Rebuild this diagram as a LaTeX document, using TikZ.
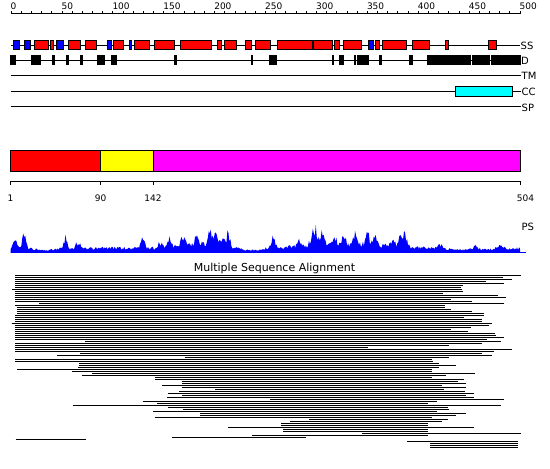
\documentclass[tikz,border=0pt]{standalone}
\usepackage{fontspec}
\setmainfont{DejaVu Sans}
\definecolor{ssred}{RGB}{255,0,0}
\definecolor{ssblue}{RGB}{0,0,255}
\definecolor{domyellow}{RGB}{255,255,0}
\definecolor{dommag}{RGB}{255,0,255}
\definecolor{cccyan}{RGB}{0,255,255}
\newcommand\rulerfont{\fontsize{9}{10}\selectfont}
\newcommand\trackfont{\fontsize{10}{11}\selectfont}
\newcommand\titlefont{\fontsize{11}{13}\selectfont}
\begin{document}
\begin{tikzpicture}[x=1pt,y=-1pt,
  ssbox/.style={draw=black,line width=0.8pt},
  dblock/.style={fill=black},
  trackline/.style={draw=black,line width=0.9pt},
  tracklabel/.style={anchor=base west,inner sep=0pt,font=\trackfont},
  rulerlabel/.style={anchor=base west,inner sep=0pt,font=\rulerfont},
  axislabel/.style={anchor=base,inner sep=0pt,font=\rulerfont},
  msaline/.style={line width=1.25pt},
  declare function={
    g(\u,\c,\w)=exp(-min(abs(\u-\c)/\w,4)*min(abs(\u-\c)/\w,4));
    env(\u)=6+6*g(\u,205,25)+5*g(\u,350,60)-3*g(\u,45,12)-3*g(\u,250,15)-2*g(\u,470,40)
      +10*g(\u,16,3)+17*g(\u,24,2.5)+13*g(\u,65,2.5)+7*g(\u,78,3)
      +13*g(\u,143,2.5)+7*g(\u,160,3)+12*g(\u,170,2.5)+13*g(\u,183,2.5)
      +8*g(\u,196,2.5)+20*g(\u,210,2.5)+21*g(\u,216,2.5)+9*g(\u,222,2.5)
      +15*g(\u,228,2.5)+17*g(\u,273,2.5)+7*g(\u,300,3)+14*g(\u,312,2.5)
      +19*g(\u,316,2.5)+14*g(\u,322,2.5)+12*g(\u,334,2.5)+12*g(\u,343,2.5)
      +12*g(\u,355,2.5)+13*g(\u,368,2.5)+9*g(\u,375,2.5)+7*g(\u,392,3)
      +14*g(\u,400,2.5)+17*g(\u,405,2.5)+4*g(\u,440,4)+4*g(\u,475,4)
      +4*g(\u,500,4);
  }]
\useasboundingbox[fill=white] (0,0) rectangle (550,469);

% ---- ruler ----
\draw[line width=0.9pt] (11,13.7) coordinate (rulerL) -- (520,13.7) coordinate (rulerR);
\foreach \r in {0,10,...,500}{
  \draw[line width=0.8pt] ({11+1.018*\r},13.7) -- ({11+1.018*\r},11.2);
}
\foreach \r in {0,50,...,500}{
  \node[rulerlabel] (rl\r) at ({10.5+1.018*\r},9.6) {\r};
}

% ---- SS track ----
\draw[trackline] (11,45) coordinate (ssL) -- (520,45) coordinate (ssR);
\foreach \a/\b/\c in {13.3/19.3/ssblue,24.7/30.7/ssblue,34.7/48.7/ssred,50.3/53.3/ssred,
  56.3/63.3/ssblue,68.3/80.3/ssred,85.3/96.3/ssred,107.3/111.3/ssblue,113.3/123.7/ssred,
  129.3/131.7/ssblue,134.3/149.3/ssred,154.7/174.3/ssred,180.3/211.3/ssred,217.3/221.3/ssred,
  224.7/236.7/ssred,245.3/251.3/ssred,255.3/270.3/ssred,277.7/312.3/ssred,313.3/332.7/ssred,
  334.3/339.3/ssred,343.3/361.7/ssred,368.3/373.7/ssblue,375.3/379.7/ssred,382.3/406.7/ssred,
  412.3/429.3/ssred,445.3/448.7/ssred,488.3/496.7/ssred}{
  \filldraw[ssbox,fill=\c] (\a,40.6) rectangle (\b,49.6);
}
\node[tracklabel] (ssl) at (520.5,49.3) {SS};

% ---- D track ----
\draw[trackline] (9.7,60.3) coordinate (dL) -- (520.7,60.3) coordinate (dR);
\foreach \a/\b in {9.7/15.7,31/40.7,51.7/54.7,66/69,79.7/82.7,96.7/104.7,111/116.7,
  174/176.7,250.7/253,269/277.3,332/334,339/343.7,354/355.7,357/369,379/381.7,
  409/412.7,427/470.7,471.7/490,491/520.7}{
  \fill[dblock] (\a,55.4) rectangle (\b,65.2);
}
\node[tracklabel] (dl) at (521,64.6) {D};

% ---- TM, CC, SP ----
\draw[trackline] (10.5,75.7) coordinate (tmL) -- (521,75.7) coordinate (tmR);
\node[tracklabel] (tml) at (521.5,79.9) {TM};
\draw[trackline] (10.5,91.3) coordinate (ccL) -- (521,91.3) coordinate (ccR);
\filldraw[ssbox,fill=cccyan] (455.4,86.3) rectangle (512.6,96.6);
\node[tracklabel] (ccl) at (521.5,95.5) {CC};
\draw[trackline] (10.5,106.8) coordinate (spL) -- (521,106.8) coordinate (spR);
\node[tracklabel] (spl) at (521.5,111) {SP};

% ---- domain bar ----
\filldraw[ssbox,fill=ssred] (10.5,150.5) rectangle (100.7,171);
\filldraw[ssbox,fill=domyellow] (100.7,150.5) rectangle (153,171);
\filldraw[ssbox,fill=dommag] (153,150.5) rectangle (520.5,171);
\draw[line width=0.9pt] (10.5,181) coordinate (axL) -- (520.5,181) coordinate (axR);
\foreach \t in {10.5,100.7,153,520.5}{
  \draw[line width=0.8pt] (\t,181) -- (\t,184.5);
}
\node[axislabel] (d1) at (10.5,201) {1};
\node[axislabel] (d90) at (100.7,201) {90};
\node[axislabel] (d142) at (153,201) {142};
\node[axislabel] (d504) at (525.5,201) {504};

% ---- PS plot ----
\pgfmathsetseed{7}
\fill[ssblue] (10.5,252.8) -- plot[domain=10.5:520,samples=520] (\x,{252.8-env(\x)*(0.5+0.5*rnd)}) -- (520,252.8) -- cycle;
\draw[ssblue,line width=0.8pt] (10.5,252.5) -- (526,252.5);
\node[tracklabel] (psl) at (521.5,230.2) {PS};

% ---- MSA ----
\node[anchor=base,inner sep=0pt,font=\titlefont] (msatitle) at (274.5,271) {Multiple Sequence Alignment};
\foreach \y/\a/\b in {275/15/520.7,277/15/503,279/15/512,281/15/485.7,283/15/503.7,
  285/15/462.7,287/15/461,289/12.3/461.7,291/15/462.7,293/15/443,295/15/497.7,
  297/15/505.7,299/15/450.7,301/15/471.7,303/39.3/503.7,305/15/445,307/16.7/444.7,
  309/16.7/451,311/16.7/471.7,313/16.7/484,315/15/484.3,317/15/463.7,319/15/481.7,
  321/15/482.3,323/12.3/492.3,325/15/489.3,327/15/471,329/15/450.7,331/15/468.3,
  333/15/495,335/15/495.7,337/15/504.3,339/15/487,341/85/501,343/15/481.7,
  345/15/449.3,347/15/367.7,349/15/511.7,351/15/494.3,353/80/481.7,355/57.3/491.7,
  357/185/449.3,359/15/431.7,361/15/433,363/79.3/439,365/79.3/455.7,367/78.3/439.3,
  369/17.3/431.7,371/72.3/431.7,373/92.3/475.3,375/82.3/445.7,377/154.7/431.7,
  379/155.3/464.3,381/181.7/458.3,383/181.7/465.7,385/162.3/442.3,387/181.7/465.7,
  389/215/444.3,391/179/465.3,393/167.7/473.7,395/181.7/465.7,397/167.3/473.7,
  399/270/503.7,401/142.7/436.7,403/157.3/427.7,405/73.3/500.7,407/167.7/447.7,
  409/182.7/448.7,411/153.3/437,413/200.3/465.7,415/200.3/456,417/154.7/431.7,
  419/309.3/447.7,421/290/441.7,423/281/428.3,425/281/428.3,427/227.7/474.3,
  429/283.3/428.3,431/283.3/428.3,433/362.3/520.7,435/251.7/428.3,437/171.7/306,
  439/15.7/86,441/407.3/518.3,443/430.3/518.3,445/430.3/518.3,447/430.3/518.3}{
  \draw[msaline] (\a,\y+0.5) -- (\b,\y+0.5);
}
\end{tikzpicture}
\end{document}
